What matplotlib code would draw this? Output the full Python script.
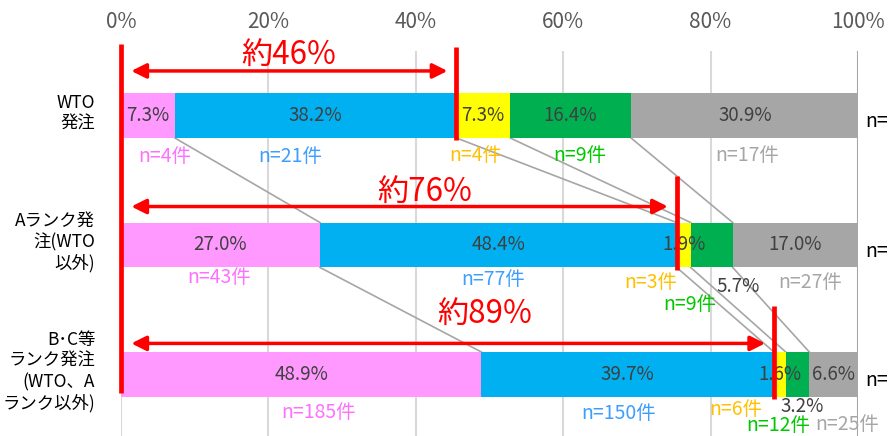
import matplotlib
matplotlib.use("Agg")
import matplotlib.pyplot as plt
import numpy as np

plt.rcParams['font.family'] = ['Noto Sans CJK JP', 'DejaVu Sans']

# ---------------- data ----------------
categories = ["WTO\n発注", "Aランク発\n注(WTO\n以外)", "B･C等\nランク発注\n(WTO、A\nランク以外)"]
pink_vals = [7.3, 27.0, 48.9]
blue_vals = [38.2, 48.4, 39.7]
yellow_vals = [7.3, 1.9, 1.6]
green_vals = [16.4, 5.7, 3.2]
gray_vals = [30.9, 17.0, 6.6]
n_pink = [4, 43, 185]
n_blue = [21, 77, 150]
n_yellow = [4, 3, 6]
n_green = [9, 9, 12]
n_gray = [17, 27, 25]
approx_labels = ["約46%", "約76%", "約89%"]
xtick_vals = [0, 20, 40, 60, 80, 100]
xtick_labels = ["0%", "20%", "40%", "60%", "80%", "100%"]

# ---------------- styles ----------------
seg_colors = ['#ff99ff', '#00b0f0', '#ffff00', '#00b050', '#a6a6a6']
n_colors = ['#ff70ff', '#3d9eff', '#ffc000', '#00c800', '#a6a6a6']
inner_color = '#404040'
red = '#ff0000'

W, H = 888, 436
fig = plt.figure(figsize=(W / 100, H / 100), dpi=100)
ax = fig.add_axes([121 / W, 0, (858 - 121) / W, (436 - 51) / H])
ax.set_xlim(0, 100)
ax.set_ylim(2.475, -0.498)
for s in ax.spines.values():
    s.set_visible(False)

ax.xaxis.tick_top()
ax.set_xticks(xtick_vals)
ax.set_xticklabels(xtick_labels, fontsize=15, color='#595959')
ax.tick_params(axis='x', length=0, pad=13)
ax.set_yticks([])
for xv in xtick_vals:
    ax.axvline(xv, color='#a6a6a6' if xv == 100 else '#d9d9d9', lw=1.5, zorder=0)

series = [pink_vals, blue_vals, yellow_vals, green_vals, gray_vals]
ns = [n_pink, n_blue, n_yellow, n_green, n_gray]
ypos = np.arange(len(categories))
bh = 0.347

lefts = np.zeros(len(categories))
cums = []
for vals, col in zip(series, seg_colors):
    vals = np.array(vals)
    ax.barh(ypos, vals, left=lefts, height=bh, color=col, edgecolor='none', zorder=2)
    lefts = lefts + vals
    cums.append(lefts.copy())
cums = np.array(cums)  # shape (5, rows)
starts = np.vstack([np.zeros(len(categories)), cums[:-1]])
centers = (starts + cums) / 2

# connector lines between rows
for k in range(len(categories) - 1):
    for j in range(4):
        ax.plot([cums[j, k], cums[j, k + 1]], [k + bh / 2, k + 1 - bh / 2],
                color='#a6a6a6', lw=1.2, zorder=1)

# in-bar percentage labels (label offsets: (dx in %, dy in rows))
pct_offsets = [
    [(0, 0), (0, 0), (0, 0), (0, 0), (0, 0)],
    [(0, 0), (0, 0), (0, 0), (3.6, 0.32), (0, 0)],
    [(0, 0), (0, 0), (0, 0), (0.6, 0.245), (0, 0)],
]
for k in range(len(categories)):
    for j in range(5):
        dx, dy = pct_offsets[k][j]
        ax.text(centers[j, k] + dx, k + dy, f"{series[j][k]:.1f}%", ha='center', va='center',
                fontsize=13.5, color=inner_color, zorder=4)

# n labels
n_offsets = [
    [(2.3, 0.32), (-3.4, 0.32), (-1.0, 0.31), (1.2, 0.31), (0.3, 0.31)],
    [(-0.2, 0.25), (-0.7, 0.27), (-4.5, 0.29), (-3.0, 0.46), (2.0, 0.29)],
    [(2.4, 0.29), (-1.2, 0.30), (-6.0, 0.27), (-2.6, 0.395), (1.8, 0.385)],
]
for k in range(len(categories)):
    for j in range(5):
        dx, dy = n_offsets[k][j]
        ax.text(centers[j, k] + dx, k + dy, f"n={ns[j][k]}件", ha='center', va='center',
                fontsize=14, color=n_colors[j], zorder=4)

# row labels
for k, lab in enumerate(categories):
    ax.text(-3.5, k - 0.02, lab, ha='right', va='center', fontsize=12.5,
            color='#000000', linespacing=1.2)
    ax.text(100 + 1.0, k + 0.05, "n=", ha='left', va='center', fontsize=14, color='#000000')

# red markers
ax.plot([0, 0], [-0.55, 2.14], color=red, lw=3.4, zorder=5, clip_on=False, solid_capstyle='butt')
arrow_dy = [-0.344, -0.297, -0.24]
text_pos = [(0.0, -0.47), (3.5, -0.41), (5.0, -0.47)]
for k in range(len(categories)):
    c = cums[1, k]
    ax.plot([c, c], [k - 0.53, k + 0.19], color=red, lw=3.4, zorder=5, clip_on=False,
            solid_capstyle='butt')
    ax.annotate('', xy=(c - 1.2, k + arrow_dy[k]), xytext=(1.4, k + arrow_dy[k]),
                arrowprops=dict(arrowstyle='<|-|>', color=red, lw=2.5,
                                mutation_scale=22, shrinkA=0, shrinkB=0), zorder=5)
    tx, ty = text_pos[k]
    ax.text(c / 2 + tx, k + ty, approx_labels[k], ha='center', va='center',
            fontsize=22.5, color=red, zorder=6)

fig.savefig('out.png', dpi=100)
